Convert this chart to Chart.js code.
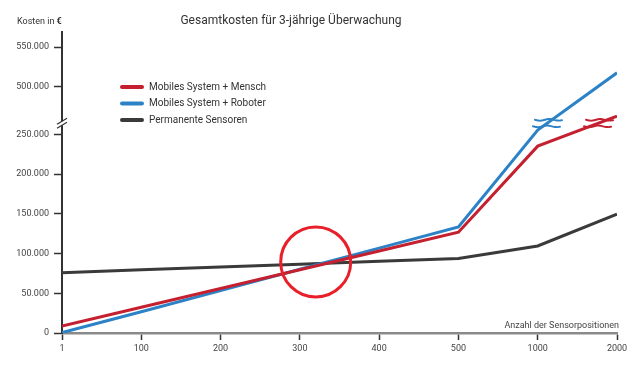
<!DOCTYPE html>
<html lang="de">
<head>
<meta charset="UTF-8">
<title>Gesamtkosten für 3-jährige Überwachung</title>
<script src="https://cdn.jsdelivr.net/npm/chart.js"></script>
<style>
  body { margin: 0; background: #fff; }
  #wrap { width: 637px; height: 372px; }
</style>
</head>
<body>
<div id="wrap"><canvas id="chart" width="637" height="372"></canvas></div>
<script>
// data
const xLabels = ['1', '100', '200', '300', '400', '500', '1000', '2000'];
const mobilMensch = [8700, 32400, 56000, 79600, 103300, 126900, 235300, 273000];
const mobilRoboter = [500, 26700, 53400, 80200, 106900, 133600, 255600, 517600];
const permanent = [76000, 79500, 83100, 86600, 90200, 93700, 109600, 149600];
const yTickValues = [0, 50000, 100000, 150000, 200000, 250000, 500000, 550000];
const seriesNames = ['Mobiles System + Mensch', 'Mobiles System + Roboter', 'Permanente Sensoren'];
const highlight = { x: 3.2, y: 89500, r: 35 }; // the red circle at the crossing

// broken y axis: everything above 400k is moved down by 190k
const SHIFT = 190000;
const BREAK_LEVEL = 264000;
const toUnits = v => (v > 400000 ? v - SHIFT : v);
const fromUnits = u => (u > 300000 ? u + SHIFT : u);
const fmt = v => String(v).replace(/\B(?=(\d{3})+(?!\d))/g, '.');

const RED = '#c4202f', BLUE = '#2b82c6', DARK = '#3a3a3a', CIRCLE = '#e8202a';
const colors = [RED, BLUE, DARK];

const points = arr => arr.map((v, i) => ({ x: i, y: toUnits(v) }));

function squiggle(ctx, x0, x1, y) {
  ctx.beginPath();
  for (let x = x0; x <= x1; x += 1) {
    const yy = y + Math.sin((x - x0) / 3) * 0.8;
    if (x === x0) ctx.moveTo(x, yy); else ctx.lineTo(x, yy);
  }
  ctx.stroke();
}

const decor = {
  id: 'decor',
  afterDraw(chart) {
    const ctx = chart.ctx;
    const xs = chart.scales.x, ys = chart.scales.y;
    ctx.save();

    // title
    ctx.fillStyle = '#333';
    ctx.textBaseline = 'middle';
    ctx.textAlign = 'center';
    ctx.font = '12px Roboto';
    ctx.fillText('Gesamtkosten für 3-jährige Überwachung', 291, 21);

    // y axis caption
    ctx.textAlign = 'left';
    ctx.font = '9px Roboto';
    ctx.fillText('Kosten in ', 17, 22);
    const w = ctx.measureText('Kosten in ').width;
    ctx.font = 'bold 9px Roboto';
    ctx.fillText('€', 17 + w, 22);

    // x axis caption
    ctx.font = '9px Roboto';
    ctx.fillStyle = '#444';
    ctx.textAlign = 'right';
    ctx.fillText('Anzahl der Sensorpositionen', 619, 326);

    // legend
    ctx.textAlign = 'left';
    ctx.font = '10px Roboto';
    seriesNames.forEach((name, i) => {
      const y = 87 + i * 16.5;
      ctx.strokeStyle = colors[i];
      ctx.lineWidth = 4;
      ctx.lineCap = 'round';
      ctx.beginPath();
      ctx.moveTo(122, y);
      ctx.lineTo(142, y);
      ctx.stroke();
      ctx.fillStyle = '#333';
      ctx.fillText(name, 149, y);
    });

    // break mark on the y axis
    const by = ys.getPixelForValue(BREAK_LEVEL);
    const ax = chart.chartArea.left;
    ctx.fillStyle = '#fff';
    ctx.fillRect(ax - 3, by - 2, 6, 4);
    ctx.strokeStyle = '#333';
    ctx.lineWidth = 1.2;
    ctx.lineCap = 'butt';
    [-2, 2].forEach(d => {
      ctx.beginPath();
      ctx.moveTo(ax - 5, by + d + 3);
      ctx.lineTo(ax + 5, by + d - 3);
      ctx.stroke();
    });

    // break marks on the two mobile lines, where they pass the break level
    [mobilMensch, mobilRoboter].forEach((arr, i) => {
      const a = toUnits(arr[6]), b = toUnits(arr[7]);
      if (b <= BREAK_LEVEL) return;
      const t = 6 + (BREAK_LEVEL - a) / (b - a);
      const cx = xs.getPixelForValue(t);
      ctx.strokeStyle = colors[i];
      ctx.lineWidth = 2;
      ctx.lineCap = 'round';
      squiggle(ctx, cx - 12, cx + 15, by - 3.5);
      squiggle(ctx, cx - 14, cx + 13, by + 3);
    });

    ctx.restore();
  }
};

new Chart(document.getElementById('chart'), {
  type: 'line',
  data: {
    datasets: [
      {
        type: 'bubble',
        label: 'highlight',
        data: [{ x: highlight.x, y: highlight.y, r: highlight.r }],
        backgroundColor: 'rgba(0,0,0,0)',
        borderColor: CIRCLE,
        borderWidth: 3,
        hoverRadius: 0,
        order: 0
      },
      { label: seriesNames[0], data: points(mobilMensch), borderColor: RED, borderWidth: 3, pointRadius: 0, tension: 0, order: 1 },
      { label: seriesNames[1], data: points(mobilRoboter), borderColor: BLUE, borderWidth: 3, pointRadius: 0, tension: 0, order: 2 },
      { label: seriesNames[2], data: points(permanent), borderColor: DARK, borderWidth: 3, pointRadius: 0, tension: 0, order: 3 }
    ]
  },
  options: {
    responsive: false,
    animation: false,
    events: [],
    layout: { autoPadding: false, padding: { left: 0, right: 20, top: 32, bottom: 0 } },
    plugins: { legend: { display: false }, tooltip: { enabled: false } },
    scales: {
      x: {
        type: 'linear',
        min: 0,
        max: xLabels.length - 1,
        afterFit: s => { s.height = 39; s.paddingLeft = 0; s.paddingRight = 0; },
        afterBuildTicks: s => { s.ticks = xLabels.map((_, i) => ({ value: i })); },
        ticks: {
          autoSkip: false,
          maxRotation: 0,
          padding: 3,
          color: '#444',
          font: { family: 'Roboto', size: 9 },
          callback: v => xLabels[v]
        },
        grid: { drawOnChartArea: false, tickLength: 7, color: '#333', tickWidth: 1.5 },
        border: { color: '#8a8a8a', width: 2.5 }
      },
      y: {
        min: 0,
        max: 379000,
        afterFit: s => { s.width = 62; s.paddingTop = 0; s.paddingBottom = 0; },
        afterBuildTicks: s => { s.ticks = yTickValues.map(v => ({ value: toUnits(v) })); },
        ticks: {
          padding: 5,
          color: '#444',
          font: { family: 'Roboto', size: 9 },
          callback: v => fmt(fromUnits(v))
        },
        grid: { drawOnChartArea: false, tickLength: 8, color: '#333', tickWidth: 1.5 },
        border: { color: '#333', width: 2 }
      }
    }
  },
  plugins: [decor]
});
</script>
</body>
</html>
